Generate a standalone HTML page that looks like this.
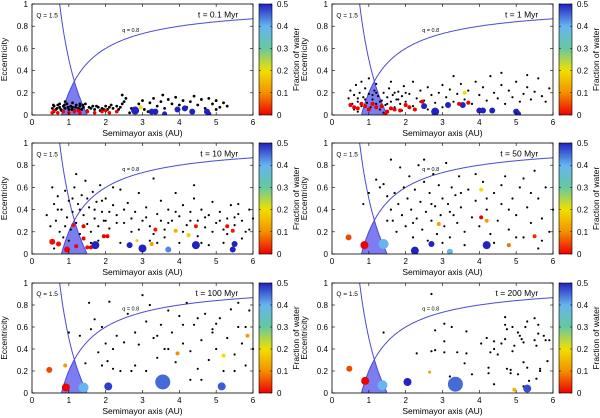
<!DOCTYPE html>
<html><head><meta charset="utf-8"><style>
html,body{margin:0;padding:0;background:#fff;}
svg{display:block;font-family:"Liberation Sans",sans-serif;}
</style></head><body>
<svg id="fig" width="600" height="418" viewBox="0 0 600 418">
<defs>
<linearGradient id="cmap" x1="0" y1="1" x2="0" y2="0">
<stop offset="0" stop-color="#ee0000"/><stop offset="0.2" stop-color="#f39000"/><stop offset="0.4" stop-color="#f0e000"/><stop offset="0.6" stop-color="#66c8a0"/><stop offset="0.8" stop-color="#66b4f0"/><stop offset="1" stop-color="#2222c0"/>
</linearGradient>
</defs>
</svg>
<script>
const panelTimes = ["t = 0.1 Myr","t = 1 Myr","t = 10 Myr","t = 50 Myr","t = 100 Myr","t = 200 Myr"];
const xTicks = [0,1,2,3,4,5,6];
const yTicks = [0,0.2,0.4,0.6,0.8,1];
const yTickLabels = ["0","0.2","0.4","0.6","0.8","1"];
const cbTicks = [0,0.1,0.2,0.3,0.4,0.5];
const cbTickLabels = ["0","0.1","0.2","0.3","0.4","0.5"];
const dots1 = [0.55,0.06,0.6,0.08,0.65,0.05,0.7,0.09,0.75,0.07,0.8,0.04,0.85,0.08,0.9,0.06,0.95,0.1,1.0,0.05,1.05,0.08,1.1,0.07,1.15,0.04,1.2,0.09,1.25,0.06,1.3,0.08,1.35,0.05,1.4,0.07,1.45,0.1,1.5,0.04,1.6,0.06,1.65,0.08,1.7,0.05,1.8,0.07,1.85,0.04,1.9,0.06,2.0,0.08,2.05,0.05,2.1,0.07,2.2,0.06,2.3,0.08,2.4,0.07,2.45,0.1,2.5,0.12,2.45,0.18,2.55,0.15,2.7,0.06,2.9,0.1,3.0,0.13,3.05,0.05,3.2,0.11,3.3,0.15,3.4,0.08,3.5,0.12,3.55,0.18,3.6,0.06,3.7,0.14,3.8,0.1,3.9,0.16,4.0,0.09,4.1,0.13,4.2,0.07,4.3,0.12,4.4,0.17,4.5,0.09,4.6,0.14,4.7,0.06,4.9,0.1,5.0,0.13,5.1,0.07,5.2,0.11,5.3,0.08,5.0,0.05,4.8,0.15,3.15,0.03,2.65,0.02,0.6,0.03,0.75,0.1,0.9,0.12,1.1,0.11,1.3,0.1,0.7,0.02,0.58,0.09,0.68,0.06,0.78,0.05,0.88,0.09,0.98,0.07,1.08,0.05,1.18,0.07,1.28,0.05,1.38,0.09,1.55,0.07,1.75,0.08,1.95,0.05,2.15,0.09,2.35,0.05];
const dots2 = [0.45,0.15,0.5,0.22,0.55,0.1,0.6,0.18,0.65,0.27,0.7,0.12,0.75,0.2,0.8,0.08,0.85,0.16,0.9,0.24,0.95,0.11,1.0,0.19,1.05,0.07,1.1,0.14,1.15,0.22,1.2,0.1,1.25,0.17,1.3,0.05,1.35,0.13,1.4,0.2,1.45,0.09,1.5,0.16,1.55,0.24,1.6,0.12,1.65,0.18,1.7,0.07,1.75,0.14,1.8,0.21,1.85,0.1,1.9,0.17,1.95,0.26,2.0,0.12,2.1,0.19,2.2,0.08,2.3,0.15,2.4,0.22,2.5,0.13,2.6,0.25,2.7,0.18,2.8,0.11,2.9,0.2,3.0,0.27,3.1,0.16,3.2,0.23,3.3,0.12,3.4,0.19,3.5,0.28,3.6,0.14,3.7,0.22,3.8,0.1,3.9,0.3,4.0,0.18,4.1,0.25,4.2,0.13,4.3,0.35,4.4,0.2,4.5,0.15,4.6,0.27,4.7,0.1,4.8,0.22,4.9,0.16,5.0,0.3,5.1,0.12,5.2,0.19,5.3,0.25,5.4,0.14,5.5,0.21,5.6,0.33,5.7,0.17,5.8,0.12,5.9,0.24,0.8,0.3,1.0,0.33,1.2,0.28,0.6,0.05,1.6,0.3,2.2,0.3,3.3,0.35,4.6,0.38,5.3,0.36,0.7,0.03,1.4,0.02,2.6,0.05,3.0,0.07,1.9,0.04,0.9,0.14,1.1,0.18,1.3,0.12,1.5,0.1,1.7,0.2,0.7,0.15,1.2,0.2,2.0,0.2,2.4,0.12,1.8,0.14];
const dots3 = [0.4,0.35,0.55,0.6,0.6,0.45,0.65,0.3,0.7,0.52,0.75,0.2,0.8,0.4,0.85,0.15,0.9,0.57,0.95,0.33,1.0,0.48,1.05,0.22,1.1,0.38,1.15,0.6,1.2,0.28,1.25,0.45,1.3,0.18,1.35,0.53,1.4,0.35,1.45,0.66,1.5,0.27,1.55,0.42,1.6,0.2,1.65,0.56,1.7,0.32,1.75,0.47,1.8,0.25,1.85,0.62,1.9,0.38,1.95,0.3,2.0,0.5,2.1,0.23,2.2,0.44,2.3,0.35,2.4,0.58,2.5,0.28,2.6,0.46,2.7,0.2,2.8,0.38,2.9,0.55,3.0,0.3,3.1,0.42,3.2,0.25,3.3,0.68,3.4,0.36,3.5,0.48,3.6,0.22,3.7,0.4,3.8,0.3,3.9,0.55,4.0,0.34,4.1,0.44,4.2,0.26,4.3,0.38,4.4,0.5,4.5,0.3,4.6,0.4,4.7,0.24,4.8,0.35,4.9,0.47,5.0,0.28,5.1,0.38,5.2,0.22,5.3,0.32,5.4,0.44,5.5,0.26,5.6,0.36,5.7,0.3,5.8,0.2,5.9,0.4,6.0,0.32,0.5,0.25,0.7,0.4,0.9,0.25,1.1,0.5,1.3,0.4,1.5,0.5,1.7,0.4,1.9,0.48,2.1,0.38,2.3,0.28,2.5,0.4,2.7,0.32,2.9,0.22,3.1,0.33,3.3,0.18,3.5,0.3,3.7,0.28,3.9,0.38,4.1,0.2,4.3,0.3,4.5,0.16,4.7,0.33,4.9,0.2,5.1,0.3,5.3,0.18,5.5,0.33,5.7,0.14,5.9,0.22,0.6,0.05,1.0,0.12,1.8,0.12,2.4,0.1,3.2,0.12,4.0,0.1,4.8,0.08,5.2,0.1,1.2,0.72,2.2,0.6,4.4,0.62,5.6,0.45,1.6,0.1,2.0,0.3,3.4,0.1,3.6,0.15,4.6,0.1];
const dots4 = [0.85,0.45,1.0,0.55,1.2,0.67,1.3,0.6,1.4,0.63,1.5,0.52,1.6,0.4,1.65,0.3,1.7,0.55,1.75,0.2,1.8,0.45,1.85,0.78,1.9,0.35,1.95,0.6,2.0,0.25,2.05,0.5,2.1,0.7,2.15,0.4,2.2,0.15,2.25,0.58,2.3,0.32,2.35,0.8,2.4,0.47,2.45,0.22,2.5,0.65,2.55,0.38,2.6,0.12,2.65,0.55,2.7,0.3,2.75,0.72,2.8,0.43,2.85,0.18,2.9,0.62,2.95,0.35,3.0,0.5,3.05,0.25,3.1,0.82,3.15,0.45,3.2,0.15,3.25,0.6,3.3,0.35,3.35,0.53,3.4,0.28,3.45,0.7,3.5,0.42,3.6,0.2,3.7,0.58,3.8,0.33,3.9,0.48,4.0,0.25,4.1,0.65,4.2,0.4,4.3,0.18,4.4,0.55,4.5,0.3,4.6,0.45,4.7,0.7,4.8,0.22,4.9,0.5,5.0,0.35,5.1,0.6,5.2,0.15,5.3,0.42,5.4,0.28,5.5,0.75,5.6,0.5,5.7,0.32,5.8,0.6,5.9,0.2,6.0,0.4,2.3,0.05,3.6,0.08,4.4,0.1,5.6,0.05,5.0,0.15,3.0,0.1,1.6,0.85,2.5,0.85,3.9,0.72,4.6,0.62,5.2,0.68,5.7,0.12,4.2,0.5,3.2,0.38,2.7,0.45,2.2,0.28,1.5,0.3,3.5,0.55,4.8,0.4,5.4,0.55];
const dots5 = [1.0,0.55,1.3,0.52,1.45,0.27,1.55,0.82,1.6,0.58,1.7,0.67,1.8,0.37,1.9,0.6,2.0,0.45,2.05,0.29,2.1,0.83,2.2,0.22,2.3,0.52,2.4,0.2,2.5,0.46,2.6,0.72,2.7,0.2,2.8,0.55,2.9,0.44,3.0,0.89,3.1,0.65,3.2,0.8,3.3,0.5,3.4,0.32,3.5,0.62,3.6,0.4,3.7,0.75,3.8,0.55,3.9,0.28,4.0,0.7,4.1,0.45,4.2,0.82,4.3,0.38,4.4,0.62,4.5,0.22,4.6,0.48,4.7,0.72,4.8,0.3,4.9,0.58,5.0,0.4,5.1,0.68,5.2,0.2,5.3,0.5,5.4,0.76,5.5,0.35,5.6,0.6,5.7,0.45,5.8,0.25,5.9,0.75,6.0,0.4,4.3,0.12,4.6,0.12,5.5,0.2,3.1,0.2,2.8,0.25,4.9,0.55,5.6,0.82,4.5,0.68,3.4,0.52,2.2,0.4,5.0,0.63,5.8,0.6,4.1,0.62,3.7,0.4,1.9,0.25];
const dots6 = [2.7,0.9,1.4,0.55,2.3,0.36,2.8,0.57,2.8,0.39,3.05,0.63,3.05,0.47,3.05,0.37,3.25,0.6,3.4,0.37,3.65,0.56,3.65,0.36,3.6,0.27,3.8,0.17,4.05,0.45,4.2,0.5,4.25,0.18,4.25,0.23,4.3,0.37,4.4,0.47,4.4,0.4,4.4,0.08,4.5,0.35,4.6,0.45,4.7,0.62,4.7,0.49,4.75,0.58,4.75,0.22,4.85,0.21,4.9,0.38,4.9,0.6,4.95,0.43,5.05,0.55,5.1,0.52,5.15,0.49,5.2,0.46,5.2,0.28,5.25,0.6,5.3,0.23,5.3,0.65,5.35,0.11,5.5,0.48,5.5,0.68,5.55,0.43,5.6,0.54,5.6,0.62,5.65,0.22,5.65,0.2,5.75,0.52,5.8,0.48,5.85,0.29,5.9,0.48,5.55,0.13,4.85,0.18,5.05,0.17,3.2,0.15,5.2,0.06,2.7,0.38,4.7,0.69];
const bodies1 = [2.8,0.04,4,0.5, 3.25,0.03,3,0.5, 3.35,0.03,3,0.5, 3.6,0.01,2.5,0.5, 3.95,0.05,3,0.5, 4.15,0.06,3,0.5, 4.35,0.03,3,0.5, 4.75,0.03,3,0.5, 4.8,0.01,2.5,0.5, 2.95,0.07,2,0.2, 0.55,0.02,1.8,0,0.7,0.02,1.8,0,0.85,0.03,1.8,0,1.0,0.02,1.8,0,1.15,0.03,1.8,0,1.3,0.02,1.8,0,1.5,0.03,1.8,0,1.7,0.02,1.8,0,1.9,0.03,1.8,0,2.1,0.02,1.8,0,2.3,0.03,1.8,0,0.6,0.04,1.8,0,1.25,0.04,1.8,0,2.0,0.04,1.8,0];
const bodies2 = [2.5,0.08,3,0.5, 2.8,0.03,4,0.5, 3.15,0.09,3,0.5, 3.55,0.09,3,0.5, 4.0,0.04,3,0.5, 4.1,0.04,3,0.5, 4.35,0.04,3,0.5, 5.0,0.03,3,0.5, 5.05,0.01,3,0.5, 3.6,0.2,2,0.2, 0.5,0.09,2,0,0.6,0.07,2,0,0.7,0.06,2,0,0.8,0.1,2,0,0.9,0.08,2,0,1.0,0.05,2,0,1.2,0.07,2,0,1.35,0.08,2,0,1.5,0.03,2,0,1.6,0.06,2,0,1.7,0.05,2,0,1.85,0.04,2,0,2.0,0.09,2,0,2.1,0.07,2,0,2.25,0.05,2,0,2.45,0.12,2,0,3.45,0.1,2,0,3.7,0.11,2,0,1.1,0.1,2,0,1.45,0.01,2,0];
const bodies3 = [0.55,0.11,3,0.01, 0.72,0.09,2.5,0.01, 0.95,0.04,3,0, 1.12,0.26,2,0.01, 1.2,0.07,2,0, 1.4,0.14,2,0, 1.5,0.06,2,0.01, 1.6,0.06,2,0, 1.4,0.25,2,0, 1.95,0.16,2,0, 2.05,0.16,2,0, 3.35,0.22,2,0.02, 4.45,0.25,2,0.02, 5.3,0.25,2,0.01, 5.45,0.21,2,0.02, 1.72,0.08,4,0.5, 2.65,0.08,3,0.5, 3.0,0.05,4,0.5, 3.7,0.04,3,0.43, 4.45,0.08,4,0.5, 5.5,0.09,3,0.5, 5.45,0.04,3,0.5, 3.25,0.09,2,0.12, 3.9,0.21,2,0.14, 4.25,0.17,2,0.18, 2.85,0.12,1.5,0.18];
const bodies4 = [0.45,0.15,3,0.05, 0.88,0.08,4,0, 1.4,0.09,5,0.4, 2.25,0.03,4,0.5, 2.7,0.09,3,0.5, 3.2,0.02,3,0.38, 4.2,0.08,4,0.5, 4.8,0.08,2,0.08, 5.5,0.16,2,0.03, 4.05,0.33,2,0, 4.2,0.3,2,0.12, 4.05,0.58,2,0.2, 2.9,0.27,2,0.12];
const bodies5 = [0.47,0.21,3,0.05, 0.92,0.05,4,0, 1.4,0.05,5,0.4, 2.07,0.06,4,0.48, 3.55,0.1,7.5,0.45, 5.15,0.06,4,0.46, 0.9,0.25,2,0.12, 3.95,0.36,2,0.1, 5.2,0.34,2,0.2, 5.85,0.52,2,0.12];
const bodies6 = [0.47,0.22,3,0.05, 0.9,0.11,4,0, 1.37,0.07,5,0.4, 2.05,0.1,4,0.5, 3.35,0.08,7.5,0.45, 5.3,0.04,4,0.47, 2.65,0.19,1.5,0.12, 4.95,0.03,2,0.15];
const allDots=[dots1,dots2,dots3,dots4,dots5,dots6];
const allBodies=[bodies1,bodies2,bodies3,bodies4,bodies5,bodies6];

const NS="http://www.w3.org/2000/svg";
const svg=document.getElementById('fig');
function mk(tag,attrs,parent,text){const e=document.createElementNS(NS,tag);for(const k in attrs)e.setAttribute(k,attrs[k]);if(text!==undefined)e.textContent=text;parent.appendChild(e);return e;}
const stops=[[0,[238,0,0]],[0.1,[243,144,0]],[0.2,[240,224,0]],[0.3,[102,200,160]],[0.4,[102,180,240]],[0.5,[34,34,192]]];
function cmap(v){v=Math.max(0,Math.min(0.5,v));for(let i=0;i<stops.length-1;i++){const [a,ca]=stops[i],[b,cb]=stops[i+1];if(v<=b){const t=(v-a)/(b-a);return 'rgb('+ca.map((c,j)=>Math.round(c+(cb[j]-c)*t)).join(',')+')';}}return 'rgb(34,34,192)';}
const cols=[{x0:32,x1:253},{x0:332,x1:553}];
const rows=[{top:4,bot:115},{top:143,bot:254},{top:283,bot:393}];
for(let p=0;p<6;p++){
  const c=cols[p%2], r=rows[Math.floor(p/2)];
  const X=a=>c.x0+(c.x1-c.x0)*a/6, Y=e=>r.bot-(r.bot-r.top)*e;
  const g=mk('g',{},svg);
  
  
  const cp='clip'+p;
  const cl=mk('clipPath',{id:cp},g);mk('rect',{x:c.x0,y:r.top,width:c.x1-c.x0,height:r.bot-r.top},cl);
  let pts=[];
  for(let a=0.8;a<=1.15;a+=0.01)pts.push(X(a)+','+Y(1-0.8/a));
  for(let a=1.15;a<=1.5;a+=0.01)pts.push(X(a)+','+Y(Math.max(0,1.5/a-1)));
  pts.push(X(1.5)+','+Y(0));
  const sh=mk('polygon',{points:pts.join(' '),fill:'#6f6fee','fill-opacity':0.9},g);
  
  
  let qd='',Qd='';
  for(let a=0.8;a<=6.001;a+=0.02)qd+=(qd?'L':'M')+X(a).toFixed(1)+','+Y(1-0.8/a).toFixed(1);
  for(let a=0.75;a<=1.5;a+=0.01)Qd+=(Qd?'L':'M')+X(a).toFixed(1)+','+Y(1.5/a-1).toFixed(1);
  const ql=mk('path',{d:qd,fill:'none',stroke:'#4a4ad8','stroke-width':1},g);
  
  
  const Ql=mk('path',{d:Qd,fill:'none',stroke:'#4a4ad8','stroke-width':1,'clip-path':'url(#'+cp+')'},g);
  
  
  const dd=allDots[p];
  const dr=p===0?1.4:1.1;
  for(let i=0;i<dd.length;i+=2){const d=mk('circle',{cx:X(dd[i]),cy:Y(dd[i+1]),r:dr,fill:'#000'},g);
    
    }
  const bb=allBodies[p];
  for(let i=0;i<bb.length;i+=4){const d=mk('circle',{cx:X(bb[i]),cy:Y(bb[i+1]),r:bb[i+2],fill:cmap(bb[i+3]),'clip-path':'url(#'+cp+')'},g);
    
    }
  const fr=mk('rect',{x:c.x0,y:r.top,width:c.x1-c.x0,height:r.bot-r.top,fill:'none',stroke:'#000','stroke-width':0.8},g);
  
  
  xTicks.forEach(t=>{mk('line',{x1:X(t),x2:X(t),y1:r.bot,y2:r.bot-3,stroke:'#000','stroke-width':0.6},g);mk('line',{x1:X(t),x2:X(t),y1:r.top,y2:r.top+3,stroke:'#000','stroke-width':0.6},g);
    const tl=mk('text',{x:X(t),y:r.bot+10,'font-size':8,'text-anchor':'middle'},g,String(t));
    
    });
  yTicks.forEach((t,i)=>{mk('line',{x1:c.x0,x2:c.x0+3,y1:Y(t),y2:Y(t),stroke:'#000','stroke-width':0.6},g);mk('line',{x1:c.x1,x2:c.x1-3,y1:Y(t),y2:Y(t),stroke:'#000','stroke-width':0.6},g);
    const tl=mk('text',{x:c.x0-4,y:Y(t)+3,'font-size':8,'text-anchor':'end'},g,yTickLabels[i]);
    
    });
  const xt=mk('text',{x:(c.x0+c.x1)/2,y:r.bot+21,'font-size':8.5,'text-anchor':'middle'},g,'Semimayor axis (AU)');
  
  
  const yx=c.x0-25, yy=(r.top+r.bot)/2;
  const yt=mk('text',{x:yx,y:yy,'font-size':8.5,'text-anchor':'middle',transform:'rotate(-90 '+yx+' '+yy+')'},g,'Eccentricity');
  
  
  const t1=mk('text',{x:X(0.12),y:Y(0.88),'font-size':6.5},g,'Q = 1.5');
  
  
  const t2=mk('text',{x:X(2.45),y:Y(0.75),'font-size':5.5},g,'q = 0.8');
  
  
  const t3=mk('text',{x:X(5.6),y:Y(0.88),'font-size':8.5,'text-anchor':'end'},g,panelTimes[p]);
  
  
  const cbx=c.x1+6;
  const cb=mk('rect',{x:cbx,y:r.top,width:13,height:r.bot-r.top,fill:'url(#cmap)',stroke:'#000','stroke-width':0.6},g);
  
  
  cbTicks.forEach((t,i)=>{const yy2=r.bot-(r.bot-r.top)*t/0.5;
    mk('line',{x1:cbx,x2:cbx+2,y1:yy2,y2:yy2,stroke:'#000','stroke-width':0.5},g);
    mk('line',{x1:cbx+13,x2:cbx+11,y1:yy2,y2:yy2,stroke:'#000','stroke-width':0.5},g);
    const tl=mk('text',{x:cbx+18,y:yy2+3,'font-size':8},g,cbTickLabels[i]);
    
    });
  const cx2=cbx+40;
  const ct=mk('text',{x:cx2,y:yy,'font-size':8.5,'text-anchor':'middle',transform:'rotate(-90 '+cx2+' '+yy+')'},g,'Fraction of water');
  
  
}
</script>
</body></html>
